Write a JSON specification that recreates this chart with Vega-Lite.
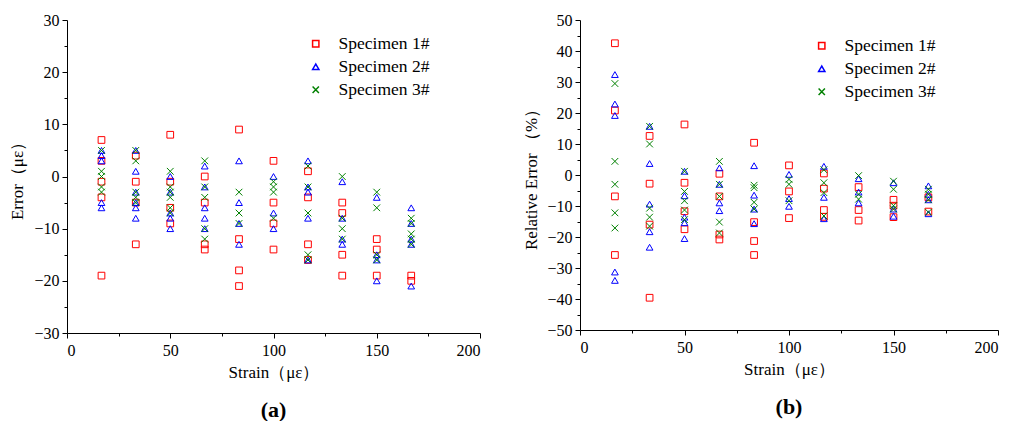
{
  "$schema": "https://vega.github.io/schema/vega-lite/v6.json",
  "padding": {"left": 8, "top": 12, "right": 2, "bottom": 0},
  "background": "white",
  "config": {
    "font": "Liberation Serif",
    "view": {"stroke": null},
    "axis": {"grid": false, "domainColor": "#000", "tickColor": "#000", "labelColor": "#000", "titleColor": "#000", "labelFontSize": 16, "titleFontSize": 17, "titleFontWeight": "normal", "labelFont": "Liberation Serif", "titleFont": "Liberation Serif"},
    "legend": {"labelFontSize": 17.5, "labelFont": "Liberation Serif", "labelColor": "#000"},
    "title": {"fontSize": 22, "font": "Liberation Serif", "fontWeight": "bold", "color": "#000"}
  },
  "datasets": {
    "abs": [
      {"strain": 16.7, "value": 7, "specimen": "Specimen 1#"},
      {"strain": 16.7, "value": 3, "specimen": "Specimen 1#"},
      {"strain": 16.7, "value": -1, "specimen": "Specimen 1#"},
      {"strain": 16.7, "value": -4, "specimen": "Specimen 1#"},
      {"strain": 16.7, "value": -19, "specimen": "Specimen 1#"},
      {"strain": 33.3, "value": 4, "specimen": "Specimen 1#"},
      {"strain": 33.3, "value": -1, "specimen": "Specimen 1#"},
      {"strain": 33.3, "value": -5, "specimen": "Specimen 1#"},
      {"strain": 33.3, "value": -13, "specimen": "Specimen 1#"},
      {"strain": 50, "value": 8, "specimen": "Specimen 1#"},
      {"strain": 50, "value": -1, "specimen": "Specimen 1#"},
      {"strain": 50, "value": -6, "specimen": "Specimen 1#"},
      {"strain": 50, "value": -9, "specimen": "Specimen 1#"},
      {"strain": 66.7, "value": 0, "specimen": "Specimen 1#"},
      {"strain": 66.7, "value": -5, "specimen": "Specimen 1#"},
      {"strain": 66.7, "value": -13, "specimen": "Specimen 1#"},
      {"strain": 66.7, "value": -14, "specimen": "Specimen 1#"},
      {"strain": 83.3, "value": 9, "specimen": "Specimen 1#"},
      {"strain": 83.3, "value": -12, "specimen": "Specimen 1#"},
      {"strain": 83.3, "value": -18, "specimen": "Specimen 1#"},
      {"strain": 83.3, "value": -21, "specimen": "Specimen 1#"},
      {"strain": 100, "value": 3, "specimen": "Specimen 1#"},
      {"strain": 100, "value": -5, "specimen": "Specimen 1#"},
      {"strain": 100, "value": -9, "specimen": "Specimen 1#"},
      {"strain": 100, "value": -14, "specimen": "Specimen 1#"},
      {"strain": 116.7, "value": 1, "specimen": "Specimen 1#"},
      {"strain": 116.7, "value": -4, "specimen": "Specimen 1#"},
      {"strain": 116.7, "value": -13, "specimen": "Specimen 1#"},
      {"strain": 116.7, "value": -16, "specimen": "Specimen 1#"},
      {"strain": 133.3, "value": -5, "specimen": "Specimen 1#"},
      {"strain": 133.3, "value": -7, "specimen": "Specimen 1#"},
      {"strain": 133.3, "value": -15, "specimen": "Specimen 1#"},
      {"strain": 133.3, "value": -19, "specimen": "Specimen 1#"},
      {"strain": 150, "value": -12, "specimen": "Specimen 1#"},
      {"strain": 150, "value": -14, "specimen": "Specimen 1#"},
      {"strain": 150, "value": -19, "specimen": "Specimen 1#"},
      {"strain": 166.7, "value": -19, "specimen": "Specimen 1#"},
      {"strain": 166.7, "value": -20, "specimen": "Specimen 1#"},
      {"strain": 16.7, "value": 5, "specimen": "Specimen 2#"},
      {"strain": 16.7, "value": 4, "specimen": "Specimen 2#"},
      {"strain": 16.7, "value": 3, "specimen": "Specimen 2#"},
      {"strain": 16.7, "value": -5, "specimen": "Specimen 2#"},
      {"strain": 16.7, "value": -6, "specimen": "Specimen 2#"},
      {"strain": 33.3, "value": 5, "specimen": "Specimen 2#"},
      {"strain": 33.3, "value": 1, "specimen": "Specimen 2#"},
      {"strain": 33.3, "value": -3, "specimen": "Specimen 2#"},
      {"strain": 33.3, "value": -5, "specimen": "Specimen 2#"},
      {"strain": 33.3, "value": -6, "specimen": "Specimen 2#"},
      {"strain": 33.3, "value": -8, "specimen": "Specimen 2#"},
      {"strain": 50, "value": 0, "specimen": "Specimen 2#"},
      {"strain": 50, "value": -3, "specimen": "Specimen 2#"},
      {"strain": 50, "value": -7, "specimen": "Specimen 2#"},
      {"strain": 50, "value": -8, "specimen": "Specimen 2#"},
      {"strain": 50, "value": -10, "specimen": "Specimen 2#"},
      {"strain": 66.7, "value": 2, "specimen": "Specimen 2#"},
      {"strain": 66.7, "value": -2, "specimen": "Specimen 2#"},
      {"strain": 66.7, "value": -6, "specimen": "Specimen 2#"},
      {"strain": 66.7, "value": -8, "specimen": "Specimen 2#"},
      {"strain": 66.7, "value": -10, "specimen": "Specimen 2#"},
      {"strain": 83.3, "value": 3, "specimen": "Specimen 2#"},
      {"strain": 83.3, "value": -5, "specimen": "Specimen 2#"},
      {"strain": 83.3, "value": -9, "specimen": "Specimen 2#"},
      {"strain": 83.3, "value": -13, "specimen": "Specimen 2#"},
      {"strain": 100, "value": 0, "specimen": "Specimen 2#"},
      {"strain": 100, "value": -7, "specimen": "Specimen 2#"},
      {"strain": 100, "value": -10, "specimen": "Specimen 2#"},
      {"strain": 116.7, "value": 3, "specimen": "Specimen 2#"},
      {"strain": 116.7, "value": -2, "specimen": "Specimen 2#"},
      {"strain": 116.7, "value": -3, "specimen": "Specimen 2#"},
      {"strain": 116.7, "value": -8, "specimen": "Specimen 2#"},
      {"strain": 116.7, "value": -16, "specimen": "Specimen 2#"},
      {"strain": 133.3, "value": -1, "specimen": "Specimen 2#"},
      {"strain": 133.3, "value": -8, "specimen": "Specimen 2#"},
      {"strain": 133.3, "value": -12, "specimen": "Specimen 2#"},
      {"strain": 133.3, "value": -13, "specimen": "Specimen 2#"},
      {"strain": 150, "value": -4, "specimen": "Specimen 2#"},
      {"strain": 150, "value": -15, "specimen": "Specimen 2#"},
      {"strain": 150, "value": -16, "specimen": "Specimen 2#"},
      {"strain": 150, "value": -20, "specimen": "Specimen 2#"},
      {"strain": 166.7, "value": -6, "specimen": "Specimen 2#"},
      {"strain": 166.7, "value": -9, "specimen": "Specimen 2#"},
      {"strain": 166.7, "value": -12, "specimen": "Specimen 2#"},
      {"strain": 166.7, "value": -13, "specimen": "Specimen 2#"},
      {"strain": 166.7, "value": -21, "specimen": "Specimen 2#"},
      {"strain": 16.7, "value": 5, "specimen": "Specimen 3#"},
      {"strain": 16.7, "value": 1, "specimen": "Specimen 3#"},
      {"strain": 16.7, "value": 0, "specimen": "Specimen 3#"},
      {"strain": 16.7, "value": -2, "specimen": "Specimen 3#"},
      {"strain": 16.7, "value": -3, "specimen": "Specimen 3#"},
      {"strain": 33.3, "value": 5, "specimen": "Specimen 3#"},
      {"strain": 33.3, "value": 3, "specimen": "Specimen 3#"},
      {"strain": 33.3, "value": -3, "specimen": "Specimen 3#"},
      {"strain": 33.3, "value": -4, "specimen": "Specimen 3#"},
      {"strain": 33.3, "value": -5, "specimen": "Specimen 3#"},
      {"strain": 50, "value": 1, "specimen": "Specimen 3#"},
      {"strain": 50, "value": -2, "specimen": "Specimen 3#"},
      {"strain": 50, "value": -3, "specimen": "Specimen 3#"},
      {"strain": 50, "value": -4, "specimen": "Specimen 3#"},
      {"strain": 50, "value": -6, "specimen": "Specimen 3#"},
      {"strain": 50, "value": -7, "specimen": "Specimen 3#"},
      {"strain": 66.7, "value": 3, "specimen": "Specimen 3#"},
      {"strain": 66.7, "value": -2, "specimen": "Specimen 3#"},
      {"strain": 66.7, "value": -4, "specimen": "Specimen 3#"},
      {"strain": 66.7, "value": -10, "specimen": "Specimen 3#"},
      {"strain": 66.7, "value": -12, "specimen": "Specimen 3#"},
      {"strain": 83.3, "value": -3, "specimen": "Specimen 3#"},
      {"strain": 83.3, "value": -7, "specimen": "Specimen 3#"},
      {"strain": 83.3, "value": -9, "specimen": "Specimen 3#"},
      {"strain": 100, "value": -1, "specimen": "Specimen 3#"},
      {"strain": 100, "value": -2, "specimen": "Specimen 3#"},
      {"strain": 100, "value": -3, "specimen": "Specimen 3#"},
      {"strain": 100, "value": -8, "specimen": "Specimen 3#"},
      {"strain": 116.7, "value": 2, "specimen": "Specimen 3#"},
      {"strain": 116.7, "value": -2, "specimen": "Specimen 3#"},
      {"strain": 116.7, "value": -7, "specimen": "Specimen 3#"},
      {"strain": 116.7, "value": -15, "specimen": "Specimen 3#"},
      {"strain": 116.7, "value": -16, "specimen": "Specimen 3#"},
      {"strain": 133.3, "value": 0, "specimen": "Specimen 3#"},
      {"strain": 133.3, "value": -8, "specimen": "Specimen 3#"},
      {"strain": 133.3, "value": -10, "specimen": "Specimen 3#"},
      {"strain": 133.3, "value": -12, "specimen": "Specimen 3#"},
      {"strain": 150, "value": -3, "specimen": "Specimen 3#"},
      {"strain": 150, "value": -6, "specimen": "Specimen 3#"},
      {"strain": 150, "value": -15, "specimen": "Specimen 3#"},
      {"strain": 150, "value": -16, "specimen": "Specimen 3#"},
      {"strain": 166.7, "value": -8, "specimen": "Specimen 3#"},
      {"strain": 166.7, "value": -9, "specimen": "Specimen 3#"},
      {"strain": 166.7, "value": -11, "specimen": "Specimen 3#"},
      {"strain": 166.7, "value": -12, "specimen": "Specimen 3#"},
      {"strain": 166.7, "value": -13, "specimen": "Specimen 3#"}
    ],
    "rel": [
      {"strain": 16.7, "value": 42.5, "specimen": "Specimen 1#"},
      {"strain": 16.7, "value": 20.8, "specimen": "Specimen 1#"},
      {"strain": 16.7, "value": -6.9, "specimen": "Specimen 1#"},
      {"strain": 16.7, "value": -25.8, "specimen": "Specimen 1#"},
      {"strain": 33.3, "value": 12.6, "specimen": "Specimen 1#"},
      {"strain": 33.3, "value": -2.8, "specimen": "Specimen 1#"},
      {"strain": 33.3, "value": -16, "specimen": "Specimen 1#"},
      {"strain": 33.3, "value": -39.6, "specimen": "Specimen 1#"},
      {"strain": 50, "value": 16.3, "specimen": "Specimen 1#"},
      {"strain": 50, "value": -2.5, "specimen": "Specimen 1#"},
      {"strain": 50, "value": -11.7, "specimen": "Specimen 1#"},
      {"strain": 50, "value": -17.5, "specimen": "Specimen 1#"},
      {"strain": 66.7, "value": 0.4, "specimen": "Specimen 1#"},
      {"strain": 66.7, "value": -6.9, "specimen": "Specimen 1#"},
      {"strain": 66.7, "value": -19.2, "specimen": "Specimen 1#"},
      {"strain": 66.7, "value": -20.8, "specimen": "Specimen 1#"},
      {"strain": 83.3, "value": 10.4, "specimen": "Specimen 1#"},
      {"strain": 83.3, "value": -15.2, "specimen": "Specimen 1#"},
      {"strain": 83.3, "value": -21.3, "specimen": "Specimen 1#"},
      {"strain": 83.3, "value": -25.8, "specimen": "Specimen 1#"},
      {"strain": 100, "value": 3.1, "specimen": "Specimen 1#"},
      {"strain": 100, "value": -5.3, "specimen": "Specimen 1#"},
      {"strain": 100, "value": -13.9, "specimen": "Specimen 1#"},
      {"strain": 116.7, "value": 0.5, "specimen": "Specimen 1#"},
      {"strain": 116.7, "value": -4.4, "specimen": "Specimen 1#"},
      {"strain": 116.7, "value": -11.3, "specimen": "Specimen 1#"},
      {"strain": 116.7, "value": -13.5, "specimen": "Specimen 1#"},
      {"strain": 133.3, "value": -3.9, "specimen": "Specimen 1#"},
      {"strain": 133.3, "value": -11.3, "specimen": "Specimen 1#"},
      {"strain": 133.3, "value": -14.7, "specimen": "Specimen 1#"},
      {"strain": 150, "value": -8, "specimen": "Specimen 1#"},
      {"strain": 150, "value": -9.9, "specimen": "Specimen 1#"},
      {"strain": 150, "value": -13.6, "specimen": "Specimen 1#"},
      {"strain": 166.7, "value": -7.2, "specimen": "Specimen 1#"},
      {"strain": 166.7, "value": -11.8, "specimen": "Specimen 1#"},
      {"strain": 16.7, "value": 32.4, "specimen": "Specimen 2#"},
      {"strain": 16.7, "value": 22.9, "specimen": "Specimen 2#"},
      {"strain": 16.7, "value": 19.2, "specimen": "Specimen 2#"},
      {"strain": 16.7, "value": -31.3, "specimen": "Specimen 2#"},
      {"strain": 16.7, "value": -34, "specimen": "Specimen 2#"},
      {"strain": 33.3, "value": 15.7, "specimen": "Specimen 2#"},
      {"strain": 33.3, "value": 3.7, "specimen": "Specimen 2#"},
      {"strain": 33.3, "value": -9.4, "specimen": "Specimen 2#"},
      {"strain": 33.3, "value": -18.3, "specimen": "Specimen 2#"},
      {"strain": 33.3, "value": -23.3, "specimen": "Specimen 2#"},
      {"strain": 50, "value": 1.2, "specimen": "Specimen 2#"},
      {"strain": 50, "value": -6.7, "specimen": "Specimen 2#"},
      {"strain": 50, "value": -13.6, "specimen": "Specimen 2#"},
      {"strain": 50, "value": -15.4, "specimen": "Specimen 2#"},
      {"strain": 50, "value": -20.5, "specimen": "Specimen 2#"},
      {"strain": 66.7, "value": 2.3, "specimen": "Specimen 2#"},
      {"strain": 66.7, "value": -3, "specimen": "Specimen 2#"},
      {"strain": 66.7, "value": -9, "specimen": "Specimen 2#"},
      {"strain": 66.7, "value": -11.5, "specimen": "Specimen 2#"},
      {"strain": 83.3, "value": 3, "specimen": "Specimen 2#"},
      {"strain": 83.3, "value": -6.5, "specimen": "Specimen 2#"},
      {"strain": 83.3, "value": -11, "specimen": "Specimen 2#"},
      {"strain": 83.3, "value": -15.7, "specimen": "Specimen 2#"},
      {"strain": 100, "value": 0.2, "specimen": "Specimen 2#"},
      {"strain": 100, "value": -7.6, "specimen": "Specimen 2#"},
      {"strain": 100, "value": -10.1, "specimen": "Specimen 2#"},
      {"strain": 116.7, "value": 2.8, "specimen": "Specimen 2#"},
      {"strain": 116.7, "value": -7.2, "specimen": "Specimen 2#"},
      {"strain": 116.7, "value": -14.1, "specimen": "Specimen 2#"},
      {"strain": 133.3, "value": -1.2, "specimen": "Specimen 2#"},
      {"strain": 133.3, "value": -5.5, "specimen": "Specimen 2#"},
      {"strain": 133.3, "value": -9, "specimen": "Specimen 2#"},
      {"strain": 150, "value": -2.5, "specimen": "Specimen 2#"},
      {"strain": 150, "value": -11, "specimen": "Specimen 2#"},
      {"strain": 150, "value": -13.3, "specimen": "Specimen 2#"},
      {"strain": 166.7, "value": -3.5, "specimen": "Specimen 2#"},
      {"strain": 166.7, "value": -6.2, "specimen": "Specimen 2#"},
      {"strain": 166.7, "value": -8, "specimen": "Specimen 2#"},
      {"strain": 166.7, "value": -12.5, "specimen": "Specimen 2#"},
      {"strain": 16.7, "value": 29.5, "specimen": "Specimen 3#"},
      {"strain": 16.7, "value": 4.4, "specimen": "Specimen 3#"},
      {"strain": 16.7, "value": -3, "specimen": "Specimen 3#"},
      {"strain": 16.7, "value": -12.2, "specimen": "Specimen 3#"},
      {"strain": 16.7, "value": -17.1, "specimen": "Specimen 3#"},
      {"strain": 33.3, "value": 15.7, "specimen": "Specimen 3#"},
      {"strain": 33.3, "value": 10, "specimen": "Specimen 3#"},
      {"strain": 33.3, "value": -10.7, "specimen": "Specimen 3#"},
      {"strain": 33.3, "value": -13.6, "specimen": "Specimen 3#"},
      {"strain": 33.3, "value": -16.5, "specimen": "Specimen 3#"},
      {"strain": 50, "value": 1.2, "specimen": "Specimen 3#"},
      {"strain": 50, "value": -5.3, "specimen": "Specimen 3#"},
      {"strain": 50, "value": -8.3, "specimen": "Specimen 3#"},
      {"strain": 50, "value": -11.3, "specimen": "Specimen 3#"},
      {"strain": 50, "value": -14.4, "specimen": "Specimen 3#"},
      {"strain": 66.7, "value": 4.4, "specimen": "Specimen 3#"},
      {"strain": 66.7, "value": -3, "specimen": "Specimen 3#"},
      {"strain": 66.7, "value": -6.9, "specimen": "Specimen 3#"},
      {"strain": 66.7, "value": -15.2, "specimen": "Specimen 3#"},
      {"strain": 66.7, "value": -18.7, "specimen": "Specimen 3#"},
      {"strain": 83.3, "value": -3.3, "specimen": "Specimen 3#"},
      {"strain": 83.3, "value": -4.1, "specimen": "Specimen 3#"},
      {"strain": 83.3, "value": -8.8, "specimen": "Specimen 3#"},
      {"strain": 83.3, "value": -11, "specimen": "Specimen 3#"},
      {"strain": 100, "value": -1.4, "specimen": "Specimen 3#"},
      {"strain": 100, "value": -3, "specimen": "Specimen 3#"},
      {"strain": 100, "value": -8.3, "specimen": "Specimen 3#"},
      {"strain": 116.7, "value": 1.7, "specimen": "Specimen 3#"},
      {"strain": 116.7, "value": -2.5, "specimen": "Specimen 3#"},
      {"strain": 116.7, "value": -5.7, "specimen": "Specimen 3#"},
      {"strain": 116.7, "value": -13.2, "specimen": "Specimen 3#"},
      {"strain": 133.3, "value": -0.2, "specimen": "Specimen 3#"},
      {"strain": 133.3, "value": -6.2, "specimen": "Specimen 3#"},
      {"strain": 133.3, "value": -7.8, "specimen": "Specimen 3#"},
      {"strain": 150, "value": -2, "specimen": "Specimen 3#"},
      {"strain": 150, "value": -4.6, "specimen": "Specimen 3#"},
      {"strain": 150, "value": -9.9, "specimen": "Specimen 3#"},
      {"strain": 150, "value": -11, "specimen": "Specimen 3#"},
      {"strain": 166.7, "value": -4.6, "specimen": "Specimen 3#"},
      {"strain": 166.7, "value": -6.2, "specimen": "Specimen 3#"},
      {"strain": 166.7, "value": -8, "specimen": "Specimen 3#"},
      {"strain": 166.7, "value": -12, "specimen": "Specimen 3#"}
    ]
  },
  "hconcat": [
    {
      "data": {"name": "abs"},
      "width": 413,
      "height": 313,
      "title": {"text": "(a)", "orient": "bottom", "offset": 20},
      "mark": {"type": "point", "filled": false, "size": 45, "strokeWidth": 1, "opacity": 1},
      "encoding": {
        "x": {"field": "strain", "type": "quantitative", "scale": {"domain": [0, 200], "nice": false},
          "axis": {"title": "Strain（με）", "values": [0, 25, 50, 75, 100, 125, 150, 175, 200], "labelExpr": "datum.value % 50 === 0 ? datum.label : ''", "tickSize": {"expr": "datum.value % 50 === 0 ? 5 : 3"}, "labelPadding": 4, "titlePadding": 6}},
        "y": {"field": "value", "type": "quantitative", "scale": {"domain": [-30, 30], "nice": false},
          "axis": {"title": "Error（με）", "values": [-30, -25, -20, -15, -10, -5, 0, 5, 10, 15, 20, 25, 30], "labelExpr": "datum.value % 10 === 0 ? datum.label : ''", "tickSize": {"expr": "datum.value % 10 === 0 ? 5 : 3"}, "labelPadding": 3, "titlePadding": 7}},
        "color": {"field": "specimen", "type": "nominal", "scale": {"domain": ["Specimen 1#", "Specimen 2#", "Specimen 3#"], "range": ["#ff0000", "#0000ff", "#008000"]},
          "legend": {"title": null, "orient": "none", "legendX": 240, "legendY": 15, "symbolSize": 40, "rowPadding": 4, "labelOffset": 14}},
        "shape": {"field": "specimen", "type": "nominal", "scale": {"domain": ["Specimen 1#", "Specimen 2#", "Specimen 3#"], "range": ["square", "triangle-up", "M-1,-1L1,1M-1,1L1,-1"]}}
      }
    },
    {
      "data": {"name": "rel"},
      "width": 418,
      "height": 310,
      "title": {"text": "(b)", "orient": "bottom", "offset": 20},
      "mark": {"type": "point", "filled": false, "size": 45, "strokeWidth": 1, "opacity": 1},
      "encoding": {
        "x": {"field": "strain", "type": "quantitative", "scale": {"domain": [0, 200], "nice": false},
          "axis": {"title": "Strain（με）", "values": [0, 25, 50, 75, 100, 125, 150, 175, 200], "labelExpr": "datum.value % 50 === 0 ? datum.label : ''", "tickSize": {"expr": "datum.value % 50 === 0 ? 5 : 3"}, "labelPadding": 4, "titlePadding": 6}},
        "y": {"field": "value", "type": "quantitative", "scale": {"domain": [-50, 50], "nice": false},
          "axis": {"title": "Relative Error （%）", "values": [-50, -45, -40, -35, -30, -25, -20, -15, -10, -5, 0, 5, 10, 15, 20, 25, 30, 35, 40, 45, 50], "labelExpr": "datum.value % 10 === 0 ? datum.label : ''", "tickSize": {"expr": "datum.value % 10 === 0 ? 5 : 3"}, "labelPadding": 3, "titlePadding": 6}},
        "color": {"field": "specimen", "type": "nominal", "scale": {"domain": ["Specimen 1#", "Specimen 2#", "Specimen 3#"], "range": ["#ff0000", "#0000ff", "#008000"]},
          "legend": {"title": null, "orient": "none", "legendX": 233, "legendY": 17, "symbolSize": 40, "rowPadding": 4, "labelOffset": 14}},
        "shape": {"field": "specimen", "type": "nominal", "scale": {"domain": ["Specimen 1#", "Specimen 2#", "Specimen 3#"], "range": ["square", "triangle-up", "M-1,-1L1,1M-1,1L1,-1"]}}
      }
    }
  ],
  "spacing": 41,
  "resolve": {"scale": {"color": "independent", "shape": "independent"}, "legend": {"color": "independent", "shape": "independent"}}
}
